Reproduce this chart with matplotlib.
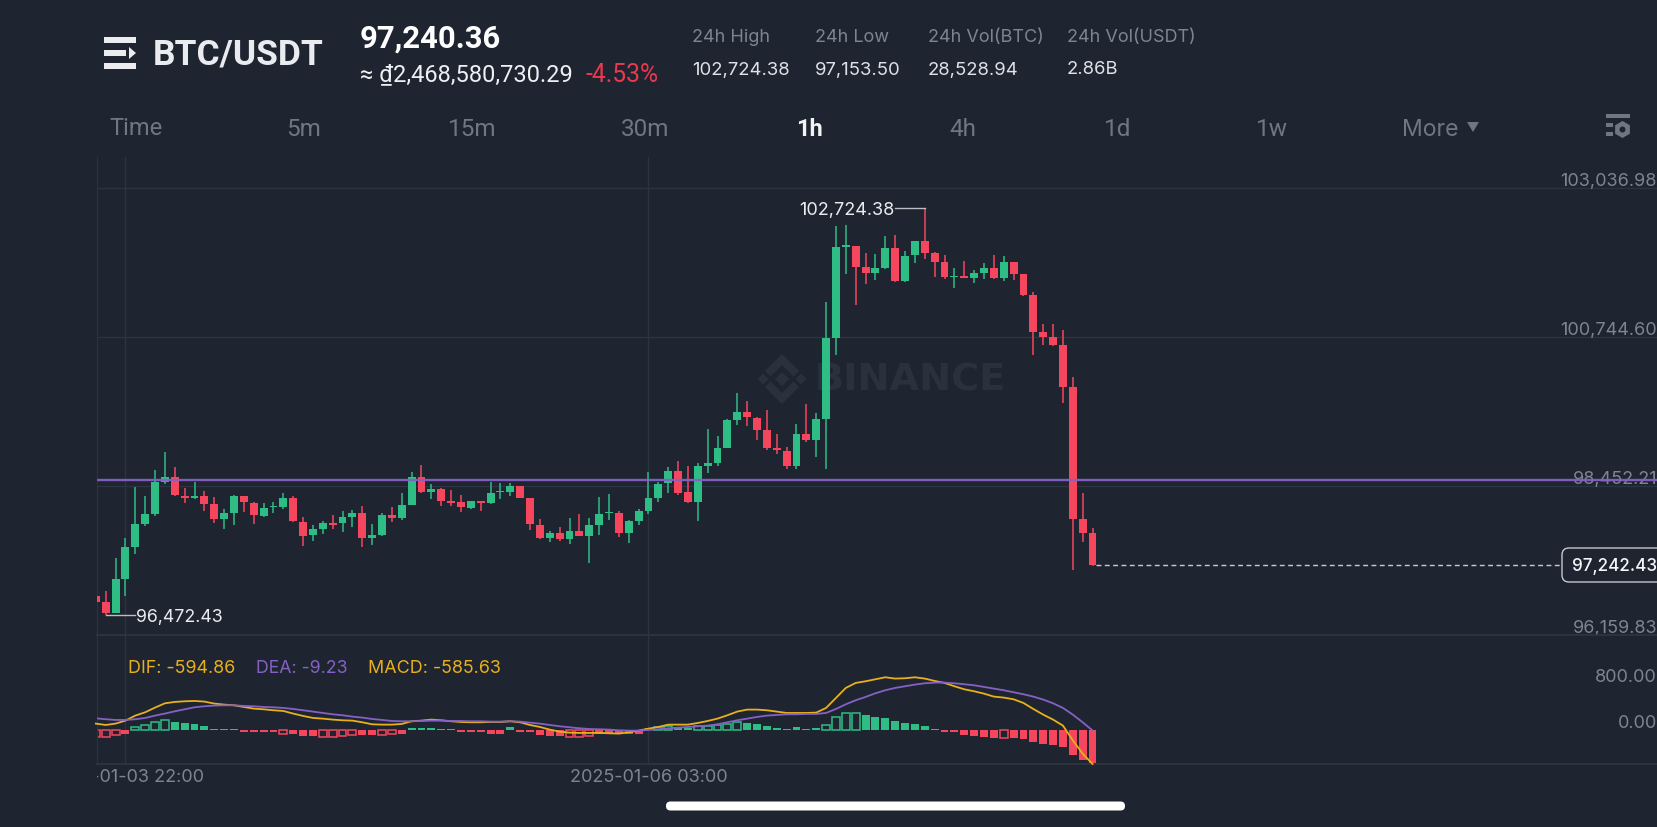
import numpy as np
import matplotlib
matplotlib.use("Agg")
import matplotlib.pyplot as plt
from matplotlib.patches import FancyBboxPatch, Polygon, Rectangle, Circle

# candle values, first candle is the one cut by the left edge
candle_open = [
    96760, 96668, 96504, 97016, 97519, 97863, 98022, 98519, 98586, 98304, 98273, 98294, 98170, 97945, 98042, 98298, 98196,
    97996, 98129, 98124, 98263, 97904, 97693, 97791, 97888, 97888, 97975, 98032, 97657, 97699, 98011, 97960, 98165, 98586,
    98360, 98411, 98217, 98206, 98119, 98222, 98186, 98360, 98355, 98448, 98263, 97853, 97647, 97729, 97642, 97765, 97688,
    97853, 98032, 98032, 97729, 97914, 98073, 98273, 98494, 98688, 98360, 98211, 98760, 98811, 99032, 99463, 99591, 99504,
    99314, 99032, 98996, 98760, 99252, 99155, 99488, 100729, 102134, 102144, 101816, 101734, 101806, 102114, 101606, 102001,
    102221, 102032, 101898, 101673, 101688, 101657, 101734, 101806, 101652, 101893, 101709, 101391, 100821, 100739, 100627,
    99970, 97950, 97729]
candle_high = [
    96760, 96837, 97340, 97657, 98442, 98298, 98698, 98970, 98745, 98416, 98514, 98381, 98278, 98093, 98314, 98298, 98201,
    98186, 98206, 98340, 98298, 97971, 97852, 97919, 98011, 98068, 98078, 98145, 97868, 98042, 98134, 98340, 98668, 98770,
    98478, 98416, 98391, 98319, 98222, 98222, 98514, 98494, 98494, 98458, 98263, 97940, 97765, 97816, 97955, 98017, 97960,
    98278, 98324, 98073, 97924, 98104, 98673, 98514, 98739, 98837, 98765, 98801, 99324, 99227, 99488, 99883, 99760, 99519,
    99622, 99247, 99052, 99401, 99709, 99570, 101283, 102452, 102468, 102144, 102042, 102021, 102303, 102314, 102068, 102227,
    102724.38, 102052, 102001, 101801, 101914, 101775, 101878, 102001, 101986, 101893, 101714, 101437, 100939, 100950, 100852,
    100134, 98340, 97801]
candle_low = [
    96668, 96472.43, 96500, 96765, 97406, 97837, 97996, 98483, 98298, 98196, 98247, 98063, 97888, 97796, 97847, 98052, 97863,
    97980, 98042, 98093, 97904, 97535, 97601, 97709, 97796, 97750, 97827, 97514, 97550, 97688, 97904, 97929, 98160, 98340,
    98257, 98145, 98145, 98047, 98104, 98068, 98181, 98257, 98298, 98263, 97776, 97637, 97596, 97611, 97565, 97678, 97273,
    97699, 97929, 97668, 97576, 97853, 98022, 98212, 98340, 98320, 98186, 97914, 98647, 98760, 99032, 99396, 99381, 99160,
    99001, 98939, 98709, 98709, 99134, 98904, 98709, 100473, 101709, 101242, 101565, 101627, 101786, 101596, 101596, 101888,
    101939, 101673, 101642, 101503, 101657, 101570, 101642, 101632, 101611, 101621, 101375, 100468, 100616, 100606, 99724,
    97153.5, 97586, 97227]
candle_close = [
    96673, 96504, 97016, 97519, 97863, 98022, 98519, 98586, 98309, 98273, 98294, 98175, 97945, 98037, 98298, 98201, 98001,
    98119, 98150, 98263, 97909, 97688, 97786, 97888, 97858, 97971, 98032, 97657, 97699, 98011, 97960, 98160, 98586, 98360,
    98411, 98217, 98186, 98124, 98222, 98186, 98350, 98381, 98448, 98268, 97863, 97652, 97729, 97637, 97765, 97688, 97847,
    98022, 98052, 97729, 97909, 98073, 98268, 98488, 98688, 98345, 98206, 98755, 98801, 99032, 99463, 99591, 99509, 99314,
    99037, 99001, 98760, 99252, 99155, 99488, 100729, 102134, 102160, 101821, 101734, 101806, 102114, 101601, 101996, 102221,
    102032, 101903, 101662, 101688, 101657, 101729, 101806, 101652, 101893, 101714, 101396, 100827, 100739, 100627, 99975,
    97950, 97734, 97242.43]

macd_bars = [
    -122, -122, -93, -64, 58, 87, 134, 169, 140, 122, 99, 70, 23, 23, 23, -35, -35, -35, -40, -70, -70, -100, -110, -128,
    -117, -105, -87, -95, -95, -87, -75, -64, 40, 40, 40, 23, 23, -35, -35, -35, -70, -70, 47, -30, -30, -87, -105, -105,
    -122, -122, -99, -70, -70, -50, -70, -70, 35, 47, 70, 52, 41, 64, 70, 82, 105, 134, 128, 111, 70, 35, 23, 47, 23, 35,
    82, 227, 297, 297, 262, 233, 210, 152, 122, 105, 70, 23, -35, -35, -93, -105, -117, -134, -140, -134, -163, -210, -245,
    -262, -303, -443, -525, -585.63]
dif_line = [
    111, 87, 111, 163, 251, 309, 391, 466, 490, 501, 507, 496, 461, 443, 431, 402, 373, 361, 344, 332, 286, 245, 210, 198,
    181, 169, 163, 134, 99, 93, 93, 105, 152, 163, 181, 169, 152, 140, 134, 134, 140, 140, 152, 134, 87, 52, 6, -29, -47,
    -52, -52, -52, -58, -64, -41, -12, 23, 52, 93, 93, 93, 122, 157, 198, 257, 321, 356, 356, 344, 321, 297, 297, 297, 303,
    385, 560, 735, 822, 851, 886, 921, 898, 904, 921, 898, 857, 822, 764, 711, 676, 635, 583, 566, 536, 472, 367, 268, 181,
    76, -181, -414, -594.86]
dea_line = [
    204, 187, 175, 175, 187, 210, 251, 286, 326, 361, 396, 414, 426, 431, 431, 420, 414, 402, 396, 385, 367, 344, 321, 297,
    274, 257, 233, 216, 192, 175, 157, 152, 152, 157, 163, 163, 157, 157, 152, 152, 146, 146, 152, 146, 128, 111, 87, 64,
    47, 29, 17, 12, 6, -6, -12, -12, 0, 12, 29, 40, 52, 64, 76, 99, 134, 169, 198, 227, 251, 262, 274, 274, 280, 280, 297,
    367, 449, 519, 577, 641, 694, 735, 764, 793, 816, 828, 828, 816, 799, 781, 752, 723, 694, 659, 624, 583, 531, 466, 385,
    268, 134, -9.23]

price_ticks = [103036.98, 100744.60, 98452.21, 96159.83]
macd_ticks = [800, 0]
time_ticks = [2, 55]
time_labels = ["2025-01-03 22:00", "2025-01-06 03:00"]
tabs = ["5m", "15m", "30m", "1h", "4h", "1d", "1w"]
stat_names = ["24h High", "24h Low", "24h Vol(BTC)", "24h Vol(USDT)"]
stat_values = ["102,724.38", "97,153.50", "28,528.94", "2.86B"]
purple_level = 98549

BG = "#1e2530"
GRID = "#2d343f"
GREEN = "#2ebd85"
RED = "#f6465d"
GOLD = "#e8b01c"
PURPLE = "#8561c5"
MUTED = "#7d8592"
LIGHT = "#eaecef"
W, H = 1657, 828
CHART = "Inter"
HEAD = "Roboto"

x = np.arange(-1, len(candle_open) - 1)
opens = np.array(candle_open)
closes = np.array(candle_close)
rising = closes >= opens
candle_colors = [GREEN if r else RED for r in rising]

fig = plt.figure(figsize=(W / 100, H / 100), dpi=100, facecolor=BG)


def px_axes(left, top, right, bottom):
    return fig.add_axes([left / W, 1 - bottom / H, (right - left) / W, (bottom - top) / H])


# whole-picture layer in pixels for the app chrome
ui = px_axes(0, 0, W, H)
ui.set_xlim(0, W)
ui.set_ylim(H, 0)
ui.axis("off")
ui.set_zorder(0)

ax = px_axes(96.7, 158, W, 636)
macd = px_axes(96.7, 636, W, 764.7)
dates = px_axes(96.7, 764.7, W, 796)
for a in (ax, macd, dates):
    a.set_xlim(-0.912, 157.2)
    a.patch.set_alpha(0)
    a.set_zorder(1)
    a.tick_params(length=0, labelleft=False, labelbottom=False)
    for side in a.spines:
        a.spines[side].set_visible(False)
dates.axis("off")
ax.set_ylim(96159.83, 103513.9)
macd.set_ylim(-590, 1660)

# -------------------------
# Candles
# -------------------------
ax.set_yticks(price_ticks)
ax.set_xticks([])
ax.grid(axis="y", color=GRID, lw=1)
ax.set_axisbelow(True)
for a in (ax, macd):
    a.spines["left"].set_visible(True)
    a.spines["left"].set_color(GRID)
    a.spines["bottom"].set_visible(True)
    a.spines["bottom"].set_color(GRID)
    a.spines["bottom"].set_linewidth(1.4)
    for t in time_ticks:
        a.axvline(t, color=GRID, lw=1, zorder=1)

ax.vlines(x, candle_low, candle_high, colors=candle_colors, lw=1.1, zorder=3)
ax.bar(x, np.abs(closes - opens), bottom=np.minimum(opens, closes), width=0.8, color=candle_colors, lw=0, zorder=3)
ax.axhline(purple_level, color=PURPLE, lw=1.7, alpha=0.95, zorder=4)

for val in price_ticks:
    ax.annotate(f"{val:,.2f}", xy=(1, val), xycoords=ax.get_yaxis_transform(), xytext=(0, 5.6),
                textcoords="offset points", ha="right", va="center", color=MUTED, fontsize=13, family=CHART,
                annotation_clip=False, zorder=2)

# high / low markers
hi = int(np.argmax(candle_high))
lo = int(np.argmin(candle_low[:5]))
ax.plot([x[hi] - 3, x[hi]], [candle_high[hi]] * 2, color="#b9bdc4", lw=1, zorder=5)
ax.annotate(f"{candle_high[hi]:,.2f}", xy=(x[hi] - 3.05, candle_high[hi]), xytext=(0, -1.2), textcoords="offset points",
            ha="right", va="center", color=LIGHT, fontsize=13, family=CHART, zorder=5)
ax.plot([x[lo], x[lo] + 3], [candle_low[lo]] * 2, color="#b9bdc4", lw=1, zorder=5)
ax.annotate(f"{candle_low[lo]:,.2f}", xy=(x[lo] + 3.05, candle_low[lo]), xytext=(0, -1.5), textcoords="offset points",
            ha="left", va="center", color=LIGHT, fontsize=12.8, family=CHART, zorder=5)

# last price
last_x = x[-1]
ax.plot([last_x + 0.35, 147.6], [candle_close[-1]] * 2, color="#c9ccd2", lw=1, dashes=(3.5, 2.5), zorder=5)
ui.add_patch(FancyBboxPatch((1562, 549), 130, 34, boxstyle="round,pad=0,rounding_size=7", fc=BG, ec="#c4c8ce", lw=1,
                            zorder=6, clip_on=True))
ui.text(1657, 567, "97,242.43", ha="right", va="center", color="#f5f6f7", fontsize=12.3, family=CHART, weight="medium",
        zorder=7)

# -------------------------
# MACD
# -------------------------
bars = np.array(macd_bars)
hollow = {-1, 0, 1, 3, 4, 5, 6, 18, 22, 23, 24, 25, 28, 29, 47, 48, 49, 56, 57, 60, 61, 62, 63, 64, 73, 74, 75, 76, 91}
for xi, v in zip(x, bars):
    c = GREEN if v > 0 else RED
    if xi in hollow:
        macd.bar(xi, v, width=0.8, facecolor=BG, edgecolor=c, lw=1.1, zorder=2)
    else:
        macd.bar(xi, v, width=0.8, color=c, lw=0, zorder=2)
macd.plot(x, dif_line, color=GOLD, lw=1.3, zorder=3, clip_on=False)
macd.plot(x, dea_line, color=PURPLE, lw=1.3, zorder=4)
macd.set_xlim(-0.912, 157.2)

for val in macd_ticks:
    macd.annotate(f"{val:.2f}", xy=(1, val), xycoords=macd.get_yaxis_transform(), xytext=(0, 5.6),
                  textcoords="offset points", ha="right", va="center", color=MUTED, fontsize=13, family=CHART,
                  annotation_clip=False)

ui.text(127.7, 669, "DIF: -594.86", color=GOLD, fontsize=12.9, family=CHART, va="center")
ui.text(256, 669, "DEA: -9.23", color=PURPLE, fontsize=12.8, family=CHART, va="center")
ui.text(368, 669, "MACD: -585.63", color=GOLD, fontsize=12.9, family=CHART, va="center")

for t, lab in zip(time_ticks, time_labels):
    dates.text(t, 0.6, lab, transform=dates.get_xaxis_transform(), ha="center", va="center", color=MUTED, fontsize=13,
               family=CHART, clip_on=True)

# -------------------------
# Watermark
# -------------------------
WM = "#2a313c"
cx, cy = 782, 380


def wm_poly(pts):
    ui.add_patch(Polygon([(cx + a, cy + b) for a, b in pts], closed=True, fc=WM, ec="none", zorder=0))


wm_poly([(0, -7), (7, 0), (0, 7), (-7, 0)])
wm_poly([(-19, -5.5), (-13.5, 0), (-19, 5.5), (-24.5, 0)])
wm_poly([(19, -5.5), (24.5, 0), (19, 5.5), (13.5, 0)])
wm_poly([(0, -25), (17, -8), (11.5, -2.5), (0, -14), (-11.5, -2.5), (-17, -8)])
wm_poly([(0, 25), (17, 8), (11.5, 2.5), (0, 14), (-11.5, 2.5), (-17, 8)])
ui.text(815, 380.5, "BINANCE", color=WM, fontsize=27.5, family="DejaVu Sans", weight="bold", va="center", ha="left", zorder=0)

# -------------------------
# Header
# -------------------------
for y0, y1, x1 in [(38, 44, 136), (51, 57, 126), (64, 70, 136)]:
    ui.add_patch(Rectangle((104, y0), x1 - 104, y1 - y0, fc=LIGHT, ec="none"))
ui.add_patch(Polygon([(129, 48), (136, 54), (129, 60)], closed=True, fc=LIGHT, ec="none"))

ui.text(153, 55, "BTC/USDT", color="#e9ebef", fontsize=25.5, family=HEAD, weight="bold", va="center")
ui.text(360, 38.5, "97,240.36", color="#ffffff", fontsize=22.3, family=HEAD, weight="bold", va="center")
ui.text(360, 75, "≈ ₫2,468,580,730.29", color="#eef0f3", fontsize=17, family=[HEAD, "DejaVu Sans"], va="center")
ui.text(585, 75, "-4.53%", color="#e8394f", fontsize=17.8, family=HEAD, va="center")

for sx, name, val in zip([692, 815, 928, 1067], stat_names, stat_values):
    ui.text(sx, 37, name, color=MUTED, fontsize=13, family=CHART, va="center")
    ui.text(sx, 70, val, color="#dfe2e6", fontsize=13.3, family=CHART, va="center")

# period tabs
ui.text(109, 128.5, "Time", color="#6f7784", fontsize=17, family=HEAD, va="center")
for cx_tab, tab in zip([304, 472, 645, 809, 963, 1118, 1272], tabs):
    if tab == "1h":
        ui.text(cx_tab, 130, tab, color="#f2f3f5", fontsize=17, family=HEAD, weight="bold", ha="center", va="center")
    else:
        ui.text(cx_tab, 130, tab, color="#6f7784", fontsize=17.5, family=HEAD, ha="center", va="center")
ui.text(1402, 130.5, "More", color="#6f7784", fontsize=16.6, family=CHART, va="center")
ui.add_patch(Polygon([(1467, 123), (1479, 123), (1473, 133)], closed=True, fc="#6f7784", ec="none"))

# settings icon
ICON = "#6f7784"
ui.add_patch(Rectangle((1606, 115), 24, 4, fc=ICON, ec="none"))
ui.add_patch(Rectangle((1606, 124), 6.5, 3.5, fc=ICON, ec="none"))
ui.add_patch(Rectangle((1606, 133), 6.5, 3.5, fc=ICON, ec="none"))
hex_angles = np.deg2rad(np.arange(30, 390, 60))
ui.add_patch(Polygon(np.c_[1622.5 + 8.5 * np.cos(hex_angles), 130.5 + 8.5 * np.sin(hex_angles)], closed=True, fc=ICON, ec="none"))
ui.add_patch(Circle((1622.5, 130.5), 3, fc=BG, ec="none"))

# home indicator
ui.add_patch(FancyBboxPatch((666, 802.5), 459, 9, boxstyle="round,pad=0,rounding_size=4.5", fc="#ffffff", ec="none"))

fig.savefig("out.png", dpi=100, facecolor=BG)
